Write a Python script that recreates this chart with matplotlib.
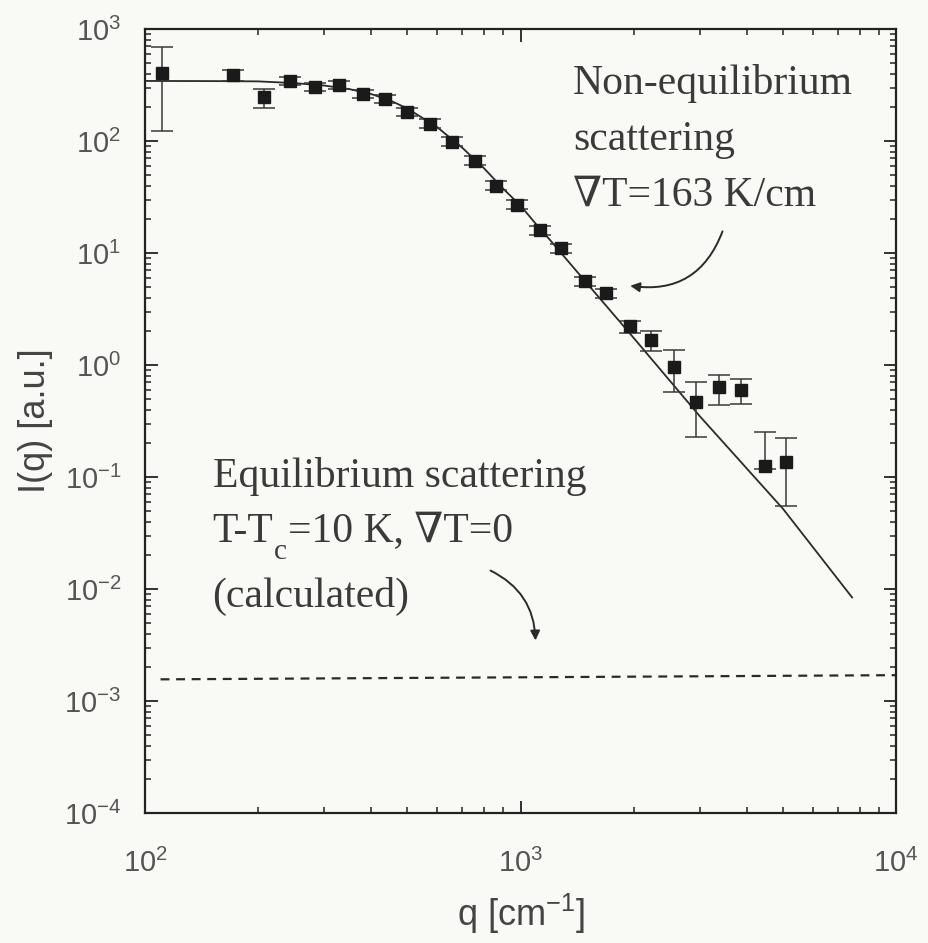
import matplotlib
matplotlib.use("Agg")
import matplotlib.pyplot as plt
import numpy as np

plt.rcParams['font.family'] = ['Liberation Sans', 'DejaVu Sans']
plt.rcParams['mathtext.fontset'] = 'custom'
plt.rcParams['mathtext.rm'] = 'Liberation Sans'
plt.rcParams['mathtext.it'] = 'Liberation Sans:italic'
plt.rcParams['mathtext.default'] = 'rm'
plt.rcParams['axes.unicode_minus'] = False

# measured points (non-equilibrium, grad T = 163 K/cm)
q = [111, 172, 207, 244, 284, 329, 381, 436, 498, 574, 656, 755, 859, 976,
     1130, 1285, 1487, 1690, 1959, 2225, 2560, 2929, 3373, 3858, 4465, 5078]
I = [405, 389, 248, 344, 305, 317, 263, 238, 182, 143, 98.6, 66.8, 40.0, 27.1,
     15.9, 11.0, 5.58, 4.37, 2.22, 1.67, 0.957, 0.467, 0.636, 0.597, 0.126, 0.137]
I_hi = [692, 431, 292, 375, 333, 346, 287, 260, 199, 156, 108, 73, 43.7, 29.6,
        17.4, 12.0, 6.1, 4.8, 2.47, 2.0, 1.36, 0.705, 0.813, 0.748, 0.253, 0.223]
I_lo = [124, 344, 198, 315, 279, 290, 241, 218, 167, 131, 90, 61, 36.6, 24.8,
        14.5, 10.1, 5.1, 4.0, 1.92, 1.33, 0.574, 0.228, 0.440, 0.449, 0.118, 0.0555]

# fitted curve
fit_q = [100, 150, 200, 250, 300, 350, 400, 450, 500, 600, 700, 800, 900, 1000,
         1100, 1200, 1500, 2000, 3000, 5000, 7640]
fit_I = [344, 343, 341, 329, 313, 291, 263, 230, 195, 133, 87, 57, 37.4, 26.5,
         18.1, 13, 5.4, 1.75, 0.35, 0.052, 0.0084]

# calculated equilibrium level
eq_q = [110, 10000]
eq_I = [1.56e-3, 1.70e-3]

q = np.array(q)
I = np.array(I)
yerr = [I - np.array(I_lo), np.array(I_hi) - I]

fig = plt.figure(figsize=(9.29, 9.43), dpi=100, facecolor='#f9f9f6')
ax = fig.add_axes([0.1561, 0.1379, 0.8084, 0.8313])
ax.set_facecolor('#f9f9f6')

ax.plot(fit_q, fit_I, color='#2a2a2a', lw=1.3)
ax.plot(eq_q, eq_I, color='#2a2a2a', lw=1.6, ls=(0, (4, 3)))
ax.errorbar(q, I, yerr=yerr, fmt='s', color='#1a1a1a', ms=9, ecolor='#3a3a3a',
            elinewidth=1.1, capsize=8, capthick=1.1)

ax.set_xscale('log')
ax.set_yscale('log')
ax.set_xlim(100, 10000)
ax.set_ylim(1e-4, 1e3)
ax.yaxis.set_major_locator(matplotlib.ticker.LogLocator(base=10, numticks=10))
ax.yaxis.set_minor_locator(matplotlib.ticker.LogLocator(base=10, subs=np.arange(2, 10), numticks=20))

for s in ax.spines.values():
    s.set_linewidth(1.6)
    s.set_color('#222222')
ax.tick_params(which='both', direction='in', top=True, right=True, colors='#222222',
               labelcolor='#555555', labelsize=21)
ax.tick_params(which='major', length=9, width=1.3)
ax.tick_params(which='minor', length=4.5, width=1.1)
ax.tick_params(axis='x', which='major', pad=26)
ax.tick_params(axis='y', which='major', pad=17)

ax.set_xlabel('q [cm$^{-1}$]', fontsize=26, color='#444444', labelpad=10)
ax.set_ylabel('I(q) [a.u.]', fontsize=26, color='#444444', labelpad=8)

serif = ['Liberation Serif', 'DejaVu Serif']
tcol = '#3a3a3a'
fs = 30
ax.text(0.57, 0.955, 'Non-equilibrium\nscattering\n\u2207T=163 K/cm', transform=ax.transAxes,
        family=serif, fontsize=fs, color=tcol, va='top', ha='left', linespacing=1.58)
ax.text(0.09, 0.416, 'Equilibrium scattering', transform=ax.transAxes,
        family=serif, fontsize=fs, color=tcol, va='baseline', ha='left')
t1 = ax.text(0.09, 0.346, 'T-T', transform=ax.transAxes,
             family=serif, fontsize=fs, color=tcol, va='baseline', ha='left')
tc = ax.annotate('c', xy=(1, 0), xycoords=t1, xytext=(0.5, -6), textcoords='offset points',
                 family=serif, fontsize=21, color=tcol, va='baseline', ha='left')
ax.annotate('=10 K, \u2207T=0', xy=(1, 0), xycoords=(tc, t1), xytext=(0.5, 0),
            textcoords='offset points', family=serif, fontsize=fs, color=tcol,
            va='bottom', ha='left')
ax.text(0.09, 0.263, '(calculated)', transform=ax.transAxes,
        family=serif, fontsize=fs, color=tcol, va='baseline', ha='left')

ax.annotate('', xy=(1959, 5.1), xytext=(3451, 15.6),
            arrowprops=dict(arrowstyle='-|>', color='#2a2a2a', lw=1.4, mutation_scale=14,
                            connectionstyle='arc3,rad=-0.4', shrinkA=0, shrinkB=0))
ax.annotate('', xy=(1096, 3.47e-3), xytext=(832, 1.46e-2),
            arrowprops=dict(arrowstyle='-|>', color='#2a2a2a', lw=1.4, mutation_scale=14,
                            connectionstyle='arc3,rad=-0.3', shrinkA=0, shrinkB=0))

fig.savefig('out.png', dpi=100, facecolor=fig.get_facecolor())
